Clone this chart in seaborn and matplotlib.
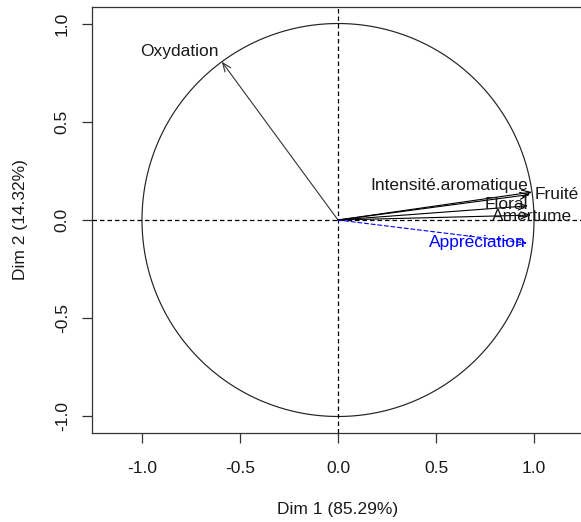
import numpy as np
import pandas as pd
import matplotlib
matplotlib.use("Agg")
import matplotlib.pyplot as plt
import seaborn as sns

# Variable coordinates on the first two PCA dimensions
variables = ["Oxydation", "Intensité.aromatique", "Fruité", "Floral", "Amertume", "Appréciation"]
dim1 = [-0.593, 0.980, 0.990, 0.970, 0.985, 0.965]
dim2 = [0.806, 0.130, 0.142, 0.072, 0.025, -0.118]
supplementary = [False, False, False, False, False, True]

# Label anchor positions (repelled so they do not overlap)
label_x = [-0.811, 0.566, 1.115, 0.857, 0.990, 0.710]
label_y = [0.857, 0.178, 0.128, 0.081, 0.018, -0.117]

xlabel = "Dim 1 (85.29%)"
ylabel = "Dim 2 (14.32%)"
ticks = [-1.0, -0.5, 0.0, 0.5, 1.0]

df = pd.DataFrame({"var": variables, "dim1": dim1, "dim2": dim2,
                   "sup": supplementary, "lx": label_x, "ly": label_y})

sns.set_theme(style="ticks")
plt.rcParams["font.family"] = ["Liberation Sans", "DejaVu Sans"]
plt.rcParams["font.size"] = 12.5

fig = plt.figure(figsize=(5.81, 5.22), dpi=100)
ax = fig.add_axes([92 / 581, 89 / 522, 492 / 581, 426 / 522])

# Unit correlation circle
theta = np.linspace(0, 2 * np.pi, 400)
circle = pd.DataFrame({"x": np.cos(theta), "y": np.sin(theta)})
sns.lineplot(data=circle, x="x", y="y", sort=False, estimator=None,
             color="#222222", linewidth=0.85, ax=ax)

# Reference axes through the origin
ax.axhline(0, color="black", linewidth=0.9, dashes=(3.6, 2.4))
ax.axvline(0, color="black", linewidth=0.9, dashes=(3.6, 2.4))

for _, r in df.iterrows():
    col = "blue" if r["sup"] else ("#333333" if r["var"] == "Oxydation" else "black")
    ls = (0, (3.6, 2.4)) if r["sup"] else "solid"
    ax.annotate("", xy=(r["dim1"], r["dim2"]), xytext=(0, 0),
                arrowprops=dict(arrowstyle="->,head_length=0.5,head_width=0.2",
                                color=col, linewidth=0.8, linestyle=ls,
                                shrinkA=0, shrinkB=0))
    ax.text(r["lx"], r["ly"], r["var"], color="blue" if r["sup"] else "#1a1a1a",
            ha="center", va="center", fontsize=12.5)

ax.set_xlim(-1.255, 1.255)
ax.set_ylim(-1.084, 1.084)
ax.set_xticks(ticks)
ax.set_yticks(ticks)
ax.set_xticklabels([f"{t:.1f}" for t in ticks])
ax.set_yticklabels([f"{t:.1f}" for t in ticks], rotation=90, va="center")
ax.tick_params(axis="both", length=7, width=0.9, colors="#333333",
               labelcolor="#1a1a1a", labelsize=12.5)
ax.tick_params(axis="x", pad=13)
ax.tick_params(axis="y", pad=9)
ax.set_xlabel(xlabel, fontsize=12.5, color="#1a1a1a", labelpad=19)
ax.set_ylabel(ylabel, fontsize=12.5, color="#1a1a1a", labelpad=19)
for s in ax.spines.values():
    s.set_visible(True)
    s.set_linewidth(0.9)
    s.set_color("#333333")
ax.set_facecolor("white")
fig.patch.set_facecolor("white")

fig.savefig("out.png", dpi=100, facecolor="white")
